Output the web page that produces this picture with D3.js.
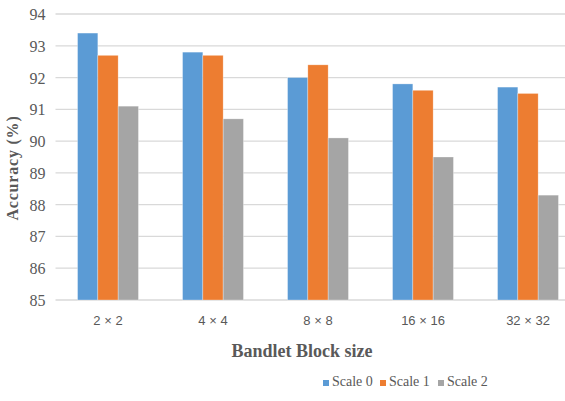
<!DOCTYPE html>
<html>
<head>
<meta charset="utf-8">
<script src="https://cdn.jsdelivr.net/npm/d3@7/dist/d3.min.js"></script>
<style>
  html, body { margin: 0; padding: 0; background: #fff; }
  svg { display: block; }
</style>
</head>
<body>
<svg id="chart" width="565" height="401"></svg>
<script>
// Accuracy per bandlet block size, for three scales
const categories = ["2 × 2", "4 × 4", "8 × 8", "16 × 16", "32 × 32"];
const seriesNames = ["Scale 0", "Scale 1", "Scale 2"];
const scale0 = [93.4, 92.8, 92.0, 91.8, 91.7];
const scale1 = [92.7, 92.7, 92.4, 91.6, 91.5];
const scale2 = [91.1, 90.7, 90.1, 89.5, 88.3];
const yTicks = [85, 86, 87, 88, 89, 90, 91, 92, 93, 94];
const colors = ["#5B9BD5", "#ED7D31", "#A5A5A5"];

const series = [scale0, scale1, scale2];
const rows = categories.map((c, i) => ({
  cat: c,
  values: series.map((s, k) => ({ key: seriesNames[k], value: s[i], k }))
}));

const svg = d3.select("#chart");
const plotLeft = 55.5, plotRight = 580.5, plotTop = 14, plotBottom = 300;
const textColor = "#595959";
const serif = "'Liberation Serif', 'Times New Roman', serif";

const x = d3.scaleBand().domain(categories).range([plotLeft, plotRight]).paddingInner(0.42).paddingOuter(0.21);
const x1 = d3.scaleBand().domain(seriesNames).range([0, x.bandwidth()]);
const y = d3.scaleLinear().domain([85, 94]).range([plotBottom, plotTop]);

// horizontal gridlines
svg.append("g")
  .selectAll("line")
  .data(yTicks)
  .join("line")
  .attr("x1", plotLeft).attr("x2", plotRight)
  .attr("y1", d => y(d)).attr("y2", d => y(d))
  .attr("stroke", "#d9d9d9")
  .attr("stroke-width", 1.3);

// y axis tick labels
const yAxis = d3.axisLeft(y).tickValues(yTicks).tickSize(0).tickPadding(0).tickFormat(d3.format("d"));
const gy = svg.append("g").attr("transform", `translate(${plotLeft - 10},0)`).call(yAxis);
gy.select(".domain").remove();
gy.selectAll("text")
  .attr("fill", textColor)
  .attr("font-family", serif)
  .attr("font-size", 16)
  .attr("dy", "0.34em");

// bars
svg.append("g")
  .selectAll("g")
  .data(rows)
  .join("g")
  .attr("transform", d => `translate(${x(d.cat)},0)`)
  .selectAll("rect")
  .data(d => d.values)
  .join("rect")
  .attr("x", d => x1(d.key))
  .attr("width", x1.bandwidth())
  .attr("y", d => y(d.value))
  .attr("height", d => y(85) - y(d.value))
  .attr("fill", d => colors[d.k])
  .attr("stroke", "#ffffff")
  .attr("stroke-opacity", 0.5)
  .attr("stroke-width", 0.6);

// category labels
const xAxis = d3.axisBottom(x).tickSize(0).tickPadding(0);
const gx = svg.append("g").attr("transform", `translate(0,${plotBottom})`).call(xAxis);
gx.select(".domain").remove();
gx.selectAll("text")
  .attr("fill", textColor)
  .attr("font-family", "'Liberation Sans', Arial, sans-serif")
  .attr("font-size", 13)
  .attr("y", 25)
  .attr("dy", 0);

// axis titles
svg.append("text")
  .attr("x", 302).attr("y", 357)
  .attr("text-anchor", "middle")
  .attr("fill", textColor)
  .attr("font-family", serif)
  .attr("font-weight", "bold")
  .attr("font-size", 18)
  .text("Bandlet Block size");

svg.append("text")
  .attr("transform", "translate(18,168) rotate(-90)")
  .attr("text-anchor", "middle")
  .attr("fill", textColor)
  .attr("font-family", serif)
  .attr("font-weight", "bold")
  .attr("font-size", 16)
  .attr("letter-spacing", 0.8)
  .text("Accuracy  (%)");

// legend
const legendX = [323, 380, 438];
const legend = svg.append("g")
  .selectAll("g")
  .data(seriesNames)
  .join("g")
  .attr("transform", (d, i) => `translate(${legendX[i]},380)`);
legend.append("rect")
  .attr("width", 6).attr("height", 6)
  .attr("fill", (d, i) => colors[i]);
legend.append("text")
  .attr("x", 9).attr("y", 6)
  .attr("fill", textColor)
  .attr("font-family", serif)
  .attr("font-size", 14)
  .text(d => d);
</script>
</body>
</html>
